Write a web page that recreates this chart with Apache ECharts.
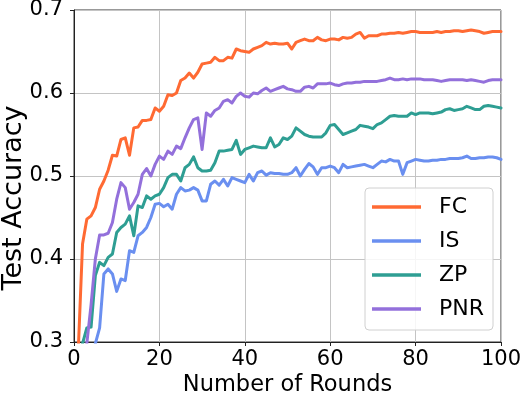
<!DOCTYPE html>
<html>
<head>
<meta charset="utf-8">
<script src="https://cdn.jsdelivr.net/npm/echarts@6/dist/echarts.min.js"></script>
<style>
  html, body { margin: 0; padding: 0; background: #fff; }
  #chart { width: 529px; height: 397px; }
</style>
</head>
<body>
<div id="chart"></div>
<script>
// accuracy per round, rounds 1..100
const seriesNames = ['FC', 'IS', 'ZP', 'PNR']
const colors = ['#ff6a33', '#6a8ff0', '#2e9e93', '#9370db']

const fcAcc = [
  0.290, 0.418, 0.448, 0.452, 0.462, 0.484, 0.494, 0.507, 0.525, 0.524,
  0.544, 0.546, 0.525, 0.558, 0.559, 0.567, 0.567, 0.568, 0.582, 0.578,
  0.584, 0.598, 0.597, 0.600, 0.615, 0.618, 0.624, 0.618, 0.625, 0.635,
  0.636, 0.637, 0.643, 0.639, 0.639, 0.643, 0.642, 0.653, 0.651, 0.650,
  0.649, 0.653, 0.655, 0.657, 0.661, 0.659, 0.660, 0.659, 0.659, 0.660,
  0.653, 0.661, 0.663, 0.665, 0.663, 0.663, 0.667, 0.664, 0.663, 0.665,
  0.665, 0.664, 0.667, 0.666, 0.667, 0.671, 0.673, 0.666, 0.669, 0.669,
  0.669, 0.671, 0.671, 0.672, 0.672, 0.673, 0.672, 0.673, 0.674, 0.674,
  0.673, 0.673, 0.673, 0.673, 0.674, 0.673, 0.674, 0.674, 0.675, 0.675,
  0.674, 0.675, 0.676, 0.675, 0.674, 0.672, 0.673, 0.674, 0.674, 0.674
]

const isAcc = [
  0.200, 0.220, 0.250, 0.270, 0.298, 0.317, 0.382, 0.388, 0.382, 0.361,
  0.376, 0.374, 0.410, 0.408, 0.428, 0.432, 0.438, 0.450, 0.466, 0.467,
  0.463, 0.466, 0.460, 0.478, 0.486, 0.482, 0.483, 0.486, 0.483, 0.470,
  0.470, 0.490, 0.494, 0.489, 0.496, 0.488, 0.498, 0.496, 0.494, 0.492,
  0.502, 0.494, 0.504, 0.506, 0.501, 0.504, 0.503, 0.503, 0.502, 0.502,
  0.504, 0.510, 0.500, 0.508, 0.515, 0.511, 0.502, 0.510, 0.510, 0.512,
  0.510, 0.504, 0.514, 0.510, 0.511, 0.512, 0.513, 0.514, 0.512, 0.510,
  0.514, 0.518, 0.517, 0.520, 0.518, 0.518, 0.502, 0.516, 0.518, 0.520,
  0.519, 0.518, 0.518, 0.519, 0.519, 0.520, 0.520, 0.521, 0.521, 0.521,
  0.522, 0.524, 0.521, 0.521, 0.522, 0.522, 0.523, 0.523, 0.522, 0.520
]

const zpAcc = [
  0.250, 0.298, 0.317, 0.318, 0.380, 0.396, 0.392, 0.402, 0.406, 0.432,
  0.438, 0.442, 0.452, 0.428, 0.464, 0.462, 0.476, 0.472, 0.476, 0.478,
  0.486, 0.498, 0.502, 0.502, 0.494, 0.510, 0.514, 0.523, 0.510, 0.506,
  0.506, 0.507, 0.516, 0.530, 0.530, 0.531, 0.532, 0.543, 0.526, 0.532,
  0.534, 0.536, 0.535, 0.534, 0.534, 0.546, 0.535, 0.538, 0.546, 0.544,
  0.548, 0.558, 0.554, 0.550, 0.548, 0.547, 0.547, 0.547, 0.552, 0.561,
  0.562, 0.556, 0.550, 0.552, 0.554, 0.556, 0.561, 0.560, 0.559, 0.557,
  0.562, 0.564, 0.568, 0.572, 0.573, 0.572, 0.572, 0.572, 0.576, 0.574,
  0.576, 0.576, 0.576, 0.575, 0.576, 0.577, 0.580, 0.581, 0.579, 0.580,
  0.581, 0.584, 0.582, 0.580, 0.580, 0.584, 0.585, 0.584, 0.583, 0.582
]

const pnrAcc = [
  0.200, 0.250, 0.298, 0.345, 0.400, 0.429, 0.429, 0.431, 0.444, 0.472,
  0.492, 0.486, 0.460, 0.468, 0.478, 0.502, 0.509, 0.500, 0.514, 0.524,
  0.520, 0.530, 0.526, 0.536, 0.533, 0.546, 0.558, 0.568, 0.570, 0.532,
  0.576, 0.572, 0.579, 0.582, 0.590, 0.592, 0.588, 0.596, 0.600, 0.596,
  0.595, 0.600, 0.599, 0.603, 0.606, 0.602, 0.604, 0.606, 0.608, 0.605,
  0.604, 0.602, 0.602, 0.607, 0.608, 0.606, 0.611, 0.611, 0.611, 0.612,
  0.610, 0.609, 0.611, 0.612, 0.612, 0.613, 0.613, 0.614, 0.614, 0.614,
  0.614, 0.615, 0.616, 0.618, 0.616, 0.616, 0.617, 0.616, 0.617, 0.617,
  0.617, 0.616, 0.616, 0.616, 0.615, 0.614, 0.615, 0.616, 0.616, 0.616,
  0.616, 0.615, 0.616, 0.615, 0.614, 0.613, 0.615, 0.616, 0.616, 0.616
]

const allAcc = [fcAcc, isAcc, zpAcc, pnrAcc]
const font = 'DejaVu Sans'

const chart = echarts.init(document.getElementById('chart'))

const option = {
  animation: false,
  backgroundColor: '#fff',
  grid: {
    left: 74,
    right: 28,
    top: 10,
    bottom: 55,
    outerBoundsMode: 'none',
    containLabel: false,
    show: true,
    borderColor: '#333',
    borderWidth: 1
  },
  legend: {
    orient: 'vertical',
    left: 365,
    top: 188,
    data: seriesNames,
    icon: 'rect',
    itemWidth: 49,
    itemHeight: 3.5,
    itemGap: 12,
    padding: [8, 9, 10, 7],
    backgroundColor: 'rgba(255,255,255,0.85)',
    borderColor: '#d0d0d0',
    borderWidth: 1,
    borderRadius: 4,
    textStyle: {
      fontFamily: font,
      fontSize: 22,
      lineHeight: 22,
      color: '#000',
      padding: [0, 0, 0, 13]
    }
  },
  xAxis: {
    type: 'value',
    min: 0,
    max: 100,
    interval: 20,
    name: 'Number of Rounds',
    nameLocation: 'middle',
    nameGap: 32,
    nameMoveOverlap: false,
    nameTextStyle: { fontFamily: font, fontSize: 22.5, color: '#000' },
    axisLine: { show: true, lineStyle: { color: '#222', width: 1 } },
    axisTick: { show: true, length: 4, lineStyle: { color: '#222' } },
    axisLabel: { fontFamily: font, fontSize: 21, color: '#000', margin: 7 },
    splitLine: { show: true, lineStyle: { color: '#c4c4c4', width: 1 } }
  },
  yAxis: {
    type: 'value',
    min: 0.3,
    max: 0.7,
    interval: 0.1,
    name: 'Test Accuracy',
    nameLocation: 'middle',
    nameGap: 47,
    nameMoveOverlap: false,
    nameTextStyle: {
      fontFamily: font,
      fontSize: 27,
      color: '#000',
      padding: [0, 44, 0, 0]
    },
    axisLine: { show: true, lineStyle: { color: '#222', width: 1 } },
    axisTick: { show: true, length: 4, lineStyle: { color: '#222' } },
    axisLabel: {
      fontFamily: font,
      fontSize: 21,
      color: '#000',
      margin: 11,
      formatter: v => v.toFixed(1)
    },
    splitLine: { show: true, lineStyle: { color: '#c4c4c4', width: 1 } }
  },
  series: seriesNames.map((name, k) => ({
    name: name,
    type: 'line',
    data: allAcc[k].map((v, i) => [i + 1, v]),
    showSymbol: false,
    symbol: 'none',
    clip: true,
    color: colors[k],
    lineStyle: { color: colors[k], width: 3, join: 'round', cap: 'round' }
  }))
}

chart.setOption(option)
</script>
</body>
</html>
